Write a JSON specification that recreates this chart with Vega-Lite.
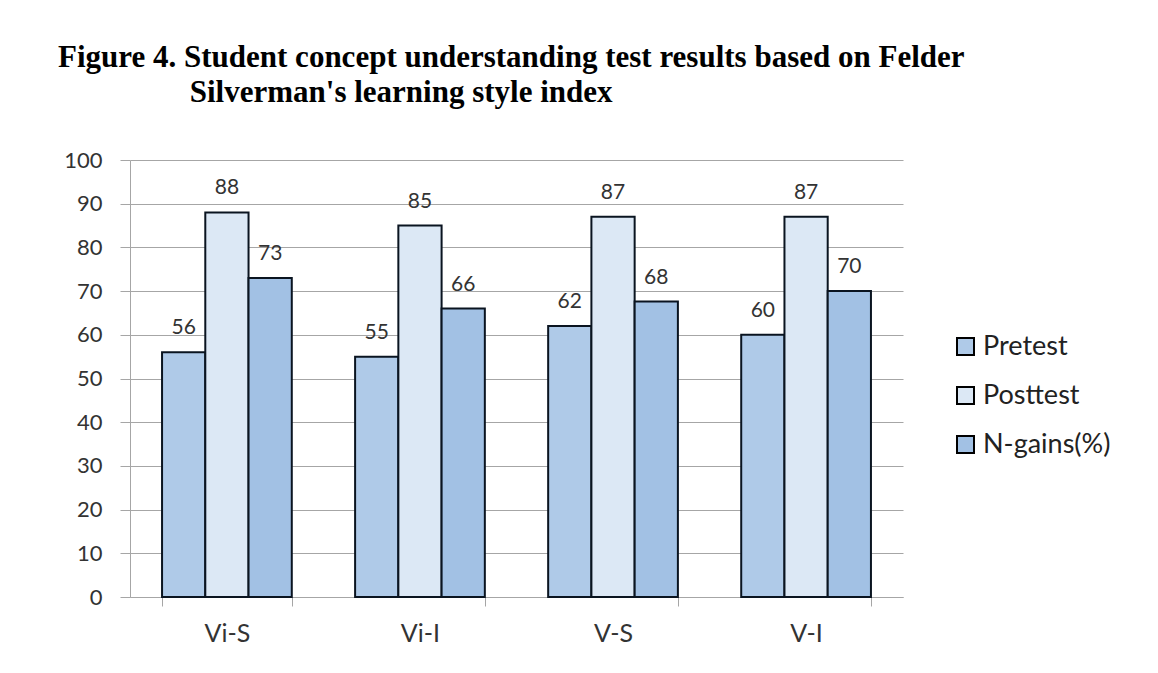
{
  "$schema": "https://vega.github.io/schema/vega-lite/v6.json",
  "width": 773,
  "height": 437,
  "autosize": {"type": "none"},
  "padding": {"left": 130, "top": 160, "right": 255, "bottom": 76},
  "background": "white",
  "title": {
    "text": ["Figure 4. Student concept understanding test results based on Felder", "\u200b\u00a0\u00a0\u00a0\u00a0\u00a0\u00a0\u00a0\u00a0\u00a0\u00a0\u00a0\u00a0\u00a0\u00a0\u00a0\u00a0\u00a0Silverman's learning style index"],
    "font": "Liberation Serif",
    "fontSize": 31,
    "fontWeight": "bold",
    "color": "black",
    "anchor": "start",
    "frame": "group",
    "dx": -72,
    "lineHeight": 35,
    "offset": 40
  },
  "data": {
    "values": [
      {"group": "Vi-S", "series": "Pretest", "value": 56},
      {"group": "Vi-S", "series": "Posttest", "value": 88},
      {"group": "Vi-S", "series": "N-gains(%)", "value": 73},
      {"group": "Vi-I", "series": "Pretest", "value": 55},
      {"group": "Vi-I", "series": "Posttest", "value": 85},
      {"group": "Vi-I", "series": "N-gains(%)", "value": 66},
      {"group": "V-S", "series": "Pretest", "value": 62},
      {"group": "V-S", "series": "Posttest", "value": 87},
      {"group": "V-S", "series": "N-gains(%)", "value": 67.6},
      {"group": "V-I", "series": "Pretest", "value": 60},
      {"group": "V-I", "series": "Posttest", "value": 87},
      {"group": "V-I", "series": "N-gains(%)", "value": 70}
    ]
  },
  "encoding": {
    "x": {
      "field": "group",
      "type": "nominal",
      "sort": ["Vi-S", "Vi-I", "V-S", "V-I"],
      "scale": {"paddingInner": 0.328, "paddingOuter": 0.166},
      "axis": {
        "title": null,
        "labelAngle": 0,
        "tickBand": "extent",
        "tickSize": 9,
        "tickColor": "#a6a6a6",
        "domainColor": "#a6a6a6",
        "labelFont": "Lato",
        "labelFontSize": 25,
        "labelColor": "#333333",
        "labelPadding": 15,
        "grid": false
      }
    },
    "xOffset": {"field": "series", "type": "nominal", "sort": ["Pretest", "Posttest", "N-gains(%)"], "scale": {"paddingInner": 0, "paddingOuter": 0}},
    "y": {
      "field": "value",
      "type": "quantitative",
      "scale": {"domain": [0, 100], "nice": false},
      "axis": {
        "title": null,
        "values": [0, 10, 20, 30, 40, 50, 60, 70, 80, 90, 100],
        "tickSize": 10,
        "tickColor": "#a6a6a6",
        "domainColor": "#a6a6a6",
        "gridColor": "#a6a6a6",
        "labelFont": "Lato",
        "labelFontSize": 22,
        "labelColor": "#333333",
        "labelPadding": 18
      }
    }
  },
  "layer": [
    {
      "mark": {"type": "bar", "stroke": "#0a1420", "strokeWidth": 2},
      "encoding": {
        "color": {
          "field": "series",
          "type": "nominal",
          "scale": {"domain": ["Pretest", "Posttest", "N-gains(%)"], "range": ["#afcae8", "#dce8f5", "#a2c1e4"]},
          "legend": {
            "title": null,
            "orient": "none",
            "legendX": 822,
            "legendY": 173,
            "symbolType": "square",
            "symbolSize": 289,
            "symbolStrokeColor": "black",
            "symbolStrokeWidth": 2,
            "symbolOpacity": 1,
            "labelFont": "Lato",
            "labelFontSize": 27,
            "labelColor": "#222222",
            "labelOffset": 4,
            "rowPadding": 21
          }
        }
      }
    },
    {
      "mark": {"type": "text", "baseline": "alphabetic", "dy": -18, "font": "Lato", "fontSize": 21, "color": "#333333"},
      "encoding": {
        "text": {"field": "value", "type": "quantitative", "format": ".0f"}
      }
    }
  ],
  "config": {
    "view": {"stroke": null}
  }
}
